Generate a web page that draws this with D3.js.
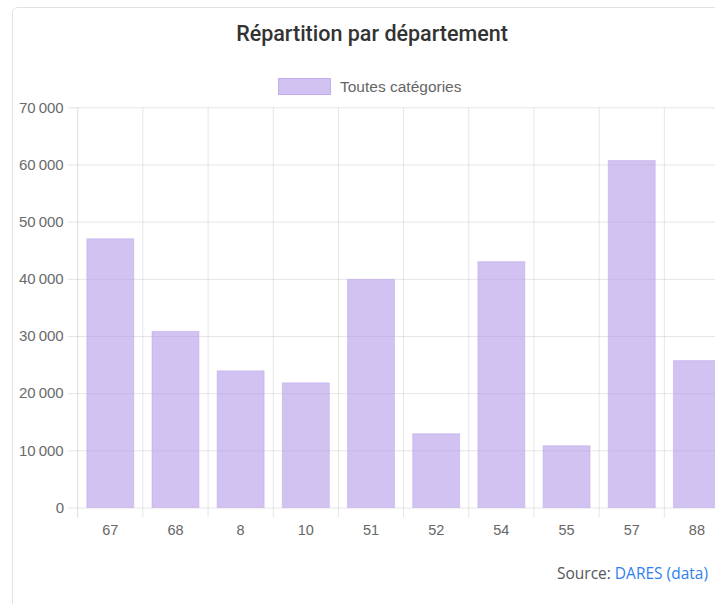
<!DOCTYPE html>
<html>
<head>
<meta charset="utf-8">
<script src="https://cdn.jsdelivr.net/npm/d3@7"></script>
<style>
  html, body { margin: 0; padding: 0; background: #fff; overflow: hidden; }
  svg { display: block; }
</style>
</head>
<body>
<svg id="graph"></svg>
<script>
// données
var departements = ["67", "68", "8", "10", "51", "52", "54", "55", "57", "88"];
var effectifs = [47000, 30800, 23900, 21800, 39900, 12900, 43000, 10800, 60700, 25700];
var yTicks = [0, 10000, 20000, 30000, 40000, 50000, 60000, 70000];
var serie = "Toutes catégories";

var width = 715, height = 604;
var plotLeft = 77.7, plotRight = 729.5, plotTop = 107.3, plotBottom = 507.5;

var fr = d3.formatLocale({decimal: ",", thousands: "\u202f", grouping: [3], currency: ["", " €"]});
var fmt = fr.format(",d");

var svg = d3.select("#graph")
    .attr("width", width)
    .attr("height", height);

// carte
svg.append("rect")
    .attr("x", 12.5).attr("y", 7.5)
    .attr("width", 760).attr("height", 640)
    .attr("rx", 5)
    .attr("fill", "#fff")
    .attr("stroke", "#e2e2e2");

svg.append("text")
    .attr("x", 372).attr("y", 41)
    .attr("text-anchor", "middle")
    .attr("font-family", "Roboto, 'Liberation Sans', sans-serif")
    .attr("font-weight", 500)
    .attr("font-size", 21.5)
    .attr("fill", "#333")
    .text("Répartition par département");

// légende
var leg = svg.append("g");
leg.append("rect")
    .attr("x", 278.5).attr("y", 78.5)
    .attr("width", 52).attr("height", 16)
    .attr("fill", "rgba(179,153,232,0.6)")
    .attr("stroke", "rgba(190,168,236,0.9)");
leg.append("text")
    .attr("x", 340).attr("y", 91.5)
    .attr("font-family", "'Liberation Sans', Arial, sans-serif")
    .attr("font-size", 15.5)
    .attr("fill", "#666")
    .text(serie);

var x = d3.scaleBand()
    .domain(departements)
    .range([plotLeft, plotRight]);

var y = d3.scaleLinear()
    .domain([0, 70000])
    .range([plotBottom, plotTop]);

// grille horizontale
var yAxis = svg.append("g")
    .attr("transform", "translate(" + plotLeft + ",0)")
    .call(d3.axisLeft(y).tickValues(yTicks).tickFormat(fmt)
        .tickSize(-(plotRight - plotLeft)).tickSizeOuter(0).tickPadding(14));
yAxis.select(".domain").remove();
yAxis.selectAll(".tick line")
    .attr("x1", -10)
    .attr("stroke", "rgba(0,0,0,0.1)");
yAxis.selectAll("text")
    .attr("font-family", "'Liberation Sans', Arial, sans-serif")
    .attr("font-size", 15)
    .attr("letter-spacing", -0.3)
    .attr("fill", "#6a6a6a");

// grille verticale (bords de catégories)
var bords = departements.map(function (d) { return x(d); }).concat([plotRight]);
svg.append("g").selectAll("line")
    .data(bords)
    .enter().append("line")
    .attr("x1", function (d) { return d; })
    .attr("x2", function (d) { return d; })
    .attr("y1", plotTop)
    .attr("y2", plotBottom + 10)
    .attr("stroke", function (d, i) { return i === 0 ? "rgba(0,0,0,0.13)" : "rgba(0,0,0,0.1)"; });

// barres
var bw = x.bandwidth() * 0.72;
svg.append("g").selectAll("rect")
    .data(effectifs)
    .enter().append("rect")
    .attr("x", function (d, i) { return x(departements[i]) + (x.bandwidth() - bw) / 2; })
    .attr("y", function (d) { return y(d); })
    .attr("width", bw)
    .attr("height", function (d) { return y(0) - y(d); })
    .attr("fill", "rgba(179,153,232,0.6)")
    .attr("stroke", "rgba(190,168,236,0.5)");

// étiquettes x
var xAxis = svg.append("g")
    .attr("transform", "translate(0," + plotBottom + ")")
    .call(d3.axisBottom(x).tickSize(0).tickPadding(17));
xAxis.select(".domain").remove();
xAxis.selectAll("text")
    .attr("font-family", "'Liberation Sans', Arial, sans-serif")
    .attr("font-size", 14.5)
    .attr("fill", "#666");

// source
var src = svg.append("text")
    .attr("x", 708).attr("y", 579)
    .attr("text-anchor", "end")
    .attr("font-family", "'Open Sans', sans-serif")
    .attr("font-size", 15.5)
    .attr("fill", "#555");
src.append("tspan").text("Source: ");
src.append("tspan").attr("fill", "#2f7ff0").text("DARES");
src.append("tspan").attr("fill", "#2f7ff0").text(" (data)");
</script>
</body>
</html>
